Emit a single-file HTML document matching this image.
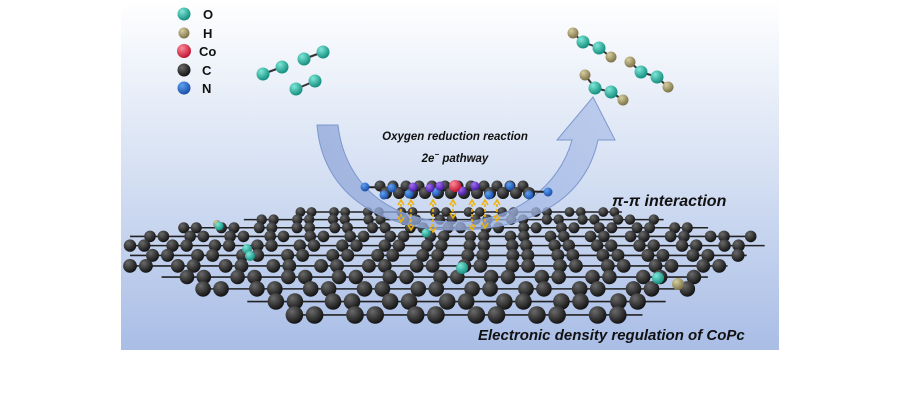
<!DOCTYPE html>
<html><head><meta charset="utf-8"><style>
html,body{margin:0;padding:0;background:#fff;}
svg{display:block;}
text{font-family:"Liberation Sans",sans-serif;}
</style></head><body>
<svg id="s" width="900" height="400" viewBox="0 0 900 400" xmlns="http://www.w3.org/2000/svg">
<defs>
<linearGradient id="bg" x1="0" y1="0" x2="0" y2="1">
<stop offset="0" stop-color="#ffffff"/><stop offset="0.45" stop-color="#d9e3f4"/><stop offset="1" stop-color="#a9bde6"/>
</linearGradient>
<radialGradient id="gC" cx="0.35" cy="0.3" r="0.7"><stop offset="0" stop-color="#6a6a6a"/><stop offset="1" stop-color="#141414"/></radialGradient>
<radialGradient id="gO" cx="0.35" cy="0.3" r="0.7"><stop offset="0" stop-color="#7fe8d8"/><stop offset="1" stop-color="#158f80"/></radialGradient>
<radialGradient id="gH" cx="0.35" cy="0.3" r="0.7"><stop offset="0" stop-color="#d8cfa0"/><stop offset="1" stop-color="#7d7348"/></radialGradient>
<radialGradient id="gCo" cx="0.35" cy="0.3" r="0.7"><stop offset="0" stop-color="#ff8a9a"/><stop offset="1" stop-color="#c01634"/></radialGradient>
<radialGradient id="gN" cx="0.35" cy="0.3" r="0.7"><stop offset="0" stop-color="#5fa0f0"/><stop offset="1" stop-color="#1a4fa8"/></radialGradient>
<radialGradient id="gP" cx="0.35" cy="0.3" r="0.7"><stop offset="0" stop-color="#a070f0"/><stop offset="1" stop-color="#4a1aa8"/></radialGradient>
<linearGradient id="arr" x1="0" y1="0" x2="1" y2="0"><stop offset="0" stop-color="#8fa6d8" stop-opacity="0.75"/><stop offset="1" stop-color="#a9bde8" stop-opacity="0.7"/></linearGradient>
</defs>
<rect x="121" y="0" width="658" height="350" fill="url(#bg)"/>
<g id="sheet"></g>
<path d="M317,125 L338,125 C345,185 390,222 455,222 C515,222 560,185 572,140 L557,140 L593,97 L615,140 L598,140 C585,200 530,230 455,230 C375,230 322,190 317,125 Z" fill="url(#arr)" stroke="#7f97cf" stroke-width="1"/>
<text x="455" y="140" font-size="11.5" font-style="italic" font-weight="bold" text-anchor="middle" fill="#111">Oxygen reduction reaction</text>
<text x="455" y="162" font-size="11.5" font-style="italic" font-weight="bold" text-anchor="middle" fill="#111">2e<tspan font-size="8" dy="-5">−</tspan><tspan dy="5"> pathway</tspan></text>
<g id="mol"></g>
<g font-size="13" font-weight="bold" fill="#111">
<circle cx="184" cy="14" r="6.5" fill="url(#gO)"/><text x="203" y="19">O</text>
<circle cx="184" cy="33" r="5.5" fill="url(#gH)"/><text x="203" y="38">H</text>
<circle cx="184" cy="51" r="7" fill="url(#gCo)"/><text x="199" y="56">Co</text>
<circle cx="184" cy="70" r="6.5" fill="url(#gC)"/><text x="202" y="75">C</text>
<circle cx="184" cy="88" r="6.5" fill="url(#gN)"/><text x="202" y="93">N</text>
</g>
<text x="612" y="206" font-size="16" font-style="italic" font-weight="bold" fill="#111">π-π interaction</text>
<text x="478" y="340" font-size="15" font-style="italic" font-weight="bold" fill="#111">Electronic density regulation of CoPc</text>
</svg>
<script>
const NS="http://www.w3.org/2000/svg";
function el(p,t,a){const e=document.createElementNS(NS,t);for(const k in a)e.setAttribute(k,a[k]);p.appendChild(e);return e;}
const sh=document.getElementById('sheet');
function lerpPts(pts,y){for(let i=0;i<pts.length-1;i++){const [y0,x0]=pts[i],[y1,x1]=pts[i+1];if(y>=y0&&y<=y1)return x0+(x1-x0)*(y-y0)/(y1-y0);}return pts[pts.length-1][1];}
const L=[[208,330],[235,130],[268,130],[328,340]];
const R=[[208,600],[240,775],[270,720],[328,620]];
let y=212,rows=[];
while(y<=326){rows.push(y);y+=7.5+(y-210)*0.065;}
rows.forEach((y,ri)=>{
  const xl=lerpPts(L,y),xr=lerpPts(R,y);
  const r=4.8+(y-210)*0.038;const sp=r*2.3;
  el(sh,'line',{x1:xl,y1:y,x2:xr,y2:y,stroke:'#222','stroke-width':1.6});
  const off=(ri%2)*sp*1.5;
  let k=0;
  for(let x=xl+off;x<=xr;x+=sp,k++){if(k%3==2)continue;el(sh,'circle',{cx:x.toFixed(1),cy:y.toFixed(1),r:r.toFixed(1),fill:'url(#gC)'});}
});
[[217,224,'gH',4],[219,226,'gO',4.5],[247,249,'gO',5],[250,256,'gO',5],[426,233,'gO',4.5],[462,268,'gO',6],[658,278,'gO',6],[678,284,'gH',6]].forEach(a=>el(sh,'circle',{cx:a[0],cy:a[1],r:a[3],fill:'url(#'+a[2]+')'}));
const m=document.getElementById('mol');
el(m,'line',{x1:362,y1:187,x2:550,y2:192,stroke:'#222','stroke-width':2});
for(let x=380;x<=535;x+=13){el(m,'circle',{cx:x,cy:186,r:5.5,fill:'url(#gC)'});el(m,'circle',{cx:x+6,cy:193,r:6,fill:'url(#gC)'});}
[[365,187],[384,195],[409,194],[436,192],[489,195],[510,186],[529,195],[548,192],[392,188]].forEach(p=>el(m,'circle',{cx:p[0],cy:p[1],r:4.5,fill:'url(#gN)'}));
[[413,187],[440,186],[462,191],[475,186],[430,188]].forEach(p=>el(m,'circle',{cx:p[0],cy:p[1],r:4.5,fill:'url(#gP)'}));
el(m,'circle',{cx:455,cy:186,r:6,fill:'url(#gCo)'});
[[401,200,222],[411,200,230],[433,200,232],[453,200,218],[472,200,230],[485,200,228],[497,200,221]].forEach(a=>{
  el(m,'line',{x1:a[0],y1:a[1]+4,x2:a[0],y2:a[2]-4,stroke:'#f0b000','stroke-width':1.6,'stroke-dasharray':'3,2'});
  el(m,'path',{d:`M${a[0]-3},${a[1]+5} L${a[0]},${a[1]} L${a[0]+3},${a[1]+5}`,fill:'none',stroke:'#f0b000','stroke-width':1.5});
  el(m,'path',{d:`M${a[0]-3},${a[2]-5} L${a[0]},${a[2]} L${a[0]+3},${a[2]-5}`,fill:'none',stroke:'#f0b000','stroke-width':1.5});
});
function chain(atoms){for(let i=0;i<atoms.length-1;i++)el(m,'line',{x1:atoms[i][0],y1:atoms[i][1],x2:atoms[i+1][0],y2:atoms[i+1][1],stroke:'#333','stroke-width':2});atoms.forEach(a=>el(m,'circle',{cx:a[0],cy:a[1],r:a[2],fill:'url(#'+a[3]+')'}));}
chain([[263,74,6.5,'gO'],[282,67,6.5,'gO']]);
chain([[304,59,6.5,'gO'],[323,52,6.5,'gO']]);
chain([[296,89,6.5,'gO'],[315,81,6.5,'gO']]);
chain([[573,33,5.5,'gH'],[583,42,6.5,'gO'],[599,48,6.5,'gO'],[611,57,5.5,'gH']]);
chain([[630,62,5.5,'gH'],[641,72,6.5,'gO'],[657,77,6.5,'gO'],[668,87,5.5,'gH']]);
chain([[585,75,5.5,'gH'],[595,88,6.5,'gO'],[611,92,6.5,'gO'],[623,100,5.5,'gH']]);
</script>
</body></html>
